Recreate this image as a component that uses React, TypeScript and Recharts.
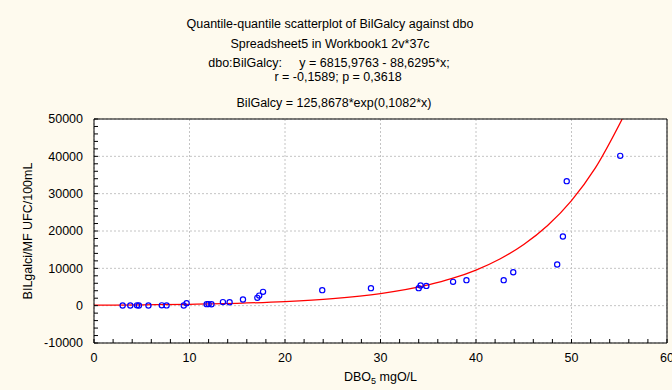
import React from "react"
import { ComposedChart, Scatter, Line, XAxis, YAxis, CartesianGrid } from "recharts"

const dboValues = [3.0, 3.8, 4.5, 4.7, 5.7, 7.1, 7.6, 9.4, 9.7, 11.8, 12.0, 12.3, 13.5, 14.2, 15.6, 17.1, 17.3, 17.7, 23.9, 29.0, 34.0, 34.2, 34.8, 37.6, 39.0, 42.9, 43.9, 48.5, 49.1, 49.5, 55.1]
const bilValues = [50, 60, 80, 40, 60, 90, 70, 50, 670, 400, 420, 380, 950, 900, 1650, 2100, 2700, 3700, 4150, 4690, 4690, 5410, 5300, 6380, 6830, 6830, 8970, 11040, 18540, 33350, 40130]

// fitted exponential curve, read at these x positions
const fitX = [0, 5, 10, 15, 20, 25, 30, 35, 37.5, 40, 42.5, 45, 47.5, 50, 52.5, 55.3]
const fitY = [126, 216, 371, 638, 1096, 1882, 3233, 5554, 7280, 9540, 12504, 16390, 21480, 28150, 36890, 49940]

const xTicks = [0, 10, 20, 30, 40, 50, 60]
const yTicks = [-10000, 0, 10000, 20000, 30000, 40000, 50000]

const titleLines = [
  "Quantile-quantile scatterplot of BilGalcy against dbo",
  "Spreadsheet5 in Workbook1 2v*37c",
  "dbo:BilGalcy:     y = 6815,9763 - 88,6295*x;",
  "r = -0,1589; p = 0,3618",
  "BilGalcy = 125,8678*exp(0,1082*x)",
]
const titleTops = [17, 37, 56, 70, 96]
const titleCenters = [330, 330, 329, 338, 334]

const points = dboValues.map((x, i) => ({ x, y: bilValues[i] }))
const fitLine = fitX.map((x, i) => ({ x, y: fitY[i] }))

const xMinor: number[] = []
for (let v = 0; v <= 60; v += 2) xMinor.push(v)
const yMinor: number[] = []
for (let v = -10000; v <= 50000; v += 2000) yMinor.push(v)

const font = "'Liberation Sans', Arial, sans-serif"
const tickStyle = { fill: "#000", fontSize: 12.5, fontFamily: font }

const OpenCircle = (props: any) => (
  <circle cx={props.cx} cy={props.cy} r={2.6} fill="none" stroke="#0000ff" strokeWidth={1.2} />
)

export default function App() {
  return (
    <div style={{ position: "fixed", left: 0, top: 0, width: 672, height: 390, background: "#fefaee", fontFamily: font, color: "#000" }}>
      {titleLines.map((t, i) => (
        <div key={i} style={{ position: "absolute", left: titleCenters[i] - 300, width: 600, top: titleTops[i], textAlign: "center", fontSize: 12.5, whiteSpace: "pre", lineHeight: "14px" }}>
          {t}
        </div>
      ))}
      <div style={{ position: "absolute", left: 94, top: 119, width: 573, height: 224, background: "#fff" }} />
      <ComposedChart width={672} height={390} margin={{ top: 118, right: 4, bottom: 46, left: 93 }} style={{ position: "absolute", left: 0, top: 0 }}>
        <CartesianGrid xAxisId="x" yAxisId="y" stroke="#c4c4c4" strokeDasharray="2 2" verticalValues={xTicks} horizontalValues={yTicks} />
        <XAxis xAxisId="x" dataKey="x" type="number" domain={[0, 60]} allowDataOverflow ticks={xMinor} interval={0}
          tickFormatter={(v: number) => (v % 10 === 0 ? String(v) : "")} height={1} tickSize={-4} tickMargin={14}
          axisLine={{ stroke: "#000" }} tickLine={{ stroke: "#000" }} tick={tickStyle} />
        <XAxis xAxisId="xt" orientation="top" type="number" domain={[0, 60]} allowDataOverflow ticks={xMinor} interval={0}
          height={1} tickSize={-4} tick={false} axisLine={{ stroke: "#000" }} tickLine={{ stroke: "#000" }} />
        <YAxis yAxisId="y" dataKey="y" type="number" domain={[-10000, 50000]} allowDataOverflow ticks={yMinor} interval={0}
          tickFormatter={(v: number) => (v % 10000 === 0 ? String(v) : "")} width={1} tickSize={-4} tickMargin={15}
          axisLine={{ stroke: "#000" }} tickLine={{ stroke: "#000" }} tick={tickStyle} />
        <YAxis yAxisId="yr" orientation="right" type="number" domain={[-10000, 50000]} allowDataOverflow ticks={yMinor} interval={0}
          width={1} tickSize={-4} tick={false} axisLine={{ stroke: "#000" }} tickLine={{ stroke: "#000" }} />
        <Line xAxisId="x" yAxisId="y" data={fitLine} dataKey="y" type="monotone" stroke="#ff0000" strokeWidth={1.3}
          dot={false} activeDot={false} isAnimationActive={false} />
        <Scatter xAxisId="x" yAxisId="y" data={points} dataKey="y" shape={OpenCircle} isAnimationActive={false} />
      </ComposedChart>
      <div style={{ position: "absolute", left: 94, width: 573, top: 370, textAlign: "center", fontSize: 12.5 }}>
        DBO<sub style={{ fontSize: 9, verticalAlign: "-3px" }}>5</sub> mgO/L
      </div>
      <div style={{ position: "absolute", left: 28, top: 231, transform: "translate(-50%, -50%) rotate(-90deg)", fontSize: 12.5, whiteSpace: "nowrap" }}>
        BILgalci/MF UFC/100mL
      </div>
    </div>
  )
}
